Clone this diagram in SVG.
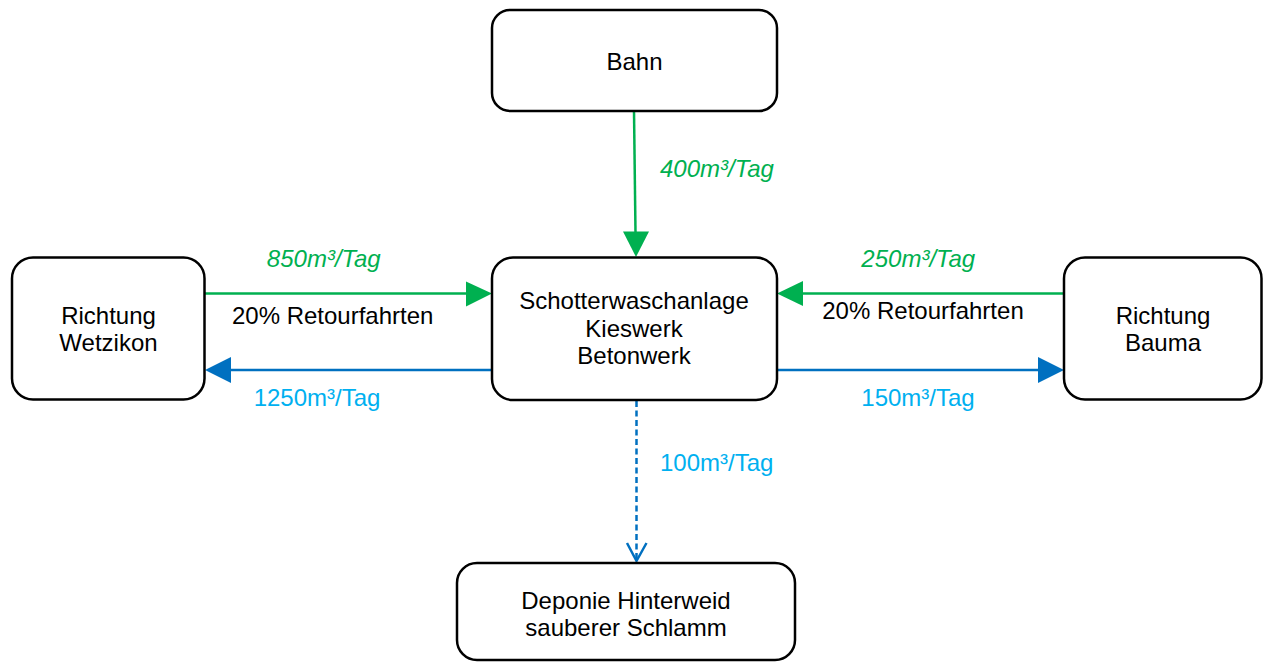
<svg xmlns="http://www.w3.org/2000/svg" width="1263" height="662" viewBox="0 0 1263 662">
<style>
.box{fill:#fff;stroke:#000;stroke-width:2.5}
.t{font-family:"Liberation Sans",Arial,sans-serif;font-size:24px;fill:#000;text-anchor:middle}
.g{fill:#00B050;font-style:italic}
.lb{fill:#00B0F0}
.gl{stroke:#00B050;stroke-width:2.5;fill:none}
.bl{stroke:#0070C0;stroke-width:2.5;fill:none}
</style>
<rect width="1263" height="662" fill="#fff"/>
<g id="connectors">
  <line class="gl" x1="634" y1="111" x2="635.5" y2="233"/>
  <polygon points="623,231.5 649,231.5 636,257" fill="#00B050"/>
  <line class="gl" x1="205" y1="293.5" x2="468" y2="293.5"/>
  <polygon points="466,281.5 466,306.5 492,293.5" fill="#00B050"/>
  <line class="bl" x1="492" y1="370" x2="229" y2="370"/>
  <polygon points="231,357 231,383 205,370" fill="#0070C0"/>
  <line class="gl" x1="1064" y1="293.5" x2="801" y2="293.5"/>
  <polygon points="803,281 803,306 777,293.5" fill="#00B050"/>
  <line class="bl" x1="777" y1="370" x2="1040" y2="370"/>
  <polygon points="1038,357 1038,383 1064,370" fill="#0070C0"/>
  <line class="bl" x1="636.5" y1="401" x2="636.5" y2="560" stroke-dasharray="6,3.5"/>
  <polyline class="bl" points="627,543 636.5,561 646.5,543"/>
</g>
<g id="bahn">
  <rect class="box" x="492" y="10" width="285" height="101" rx="18"/>
  <text class="t" x="634.5" y="70">Bahn</text>
</g>
<g id="zentrum">
  <rect class="box" x="492" y="257.5" width="285" height="142.5" rx="21"/>
  <text class="t" x="634" y="309.3">Schotterwaschanlage</text>
  <text class="t" x="634" y="337.3">Kieswerk</text>
  <text class="t" x="634" y="364.3">Betonwerk</text>
</g>
<g id="wetzikon">
  <rect class="box" x="12" y="257.5" width="192.5" height="142" rx="21"/>
  <text class="t" x="108.5" y="324">Richtung</text>
  <text class="t" x="108.5" y="351.3">Wetzikon</text>
</g>
<g id="bauma">
  <rect class="box" x="1064" y="257.5" width="197.5" height="142" rx="21"/>
  <text class="t" x="1163" y="323.5">Richtung</text>
  <text class="t" x="1163" y="351">Bauma</text>
</g>
<g id="deponie">
  <rect class="box" x="457" y="563" width="338" height="97" rx="20"/>
  <text class="t" x="626" y="608.7">Deponie Hinterweid</text>
  <text class="t" x="626" y="635.5">sauberer Schlamm</text>
</g>
<g id="labels">
  <text class="t g" x="660" y="176.7" style="text-anchor:start">400m³/Tag</text>
  <text class="t g" x="323.8" y="266.7">850m³/Tag</text>
  <text class="t" x="332.7" y="324.3">20% Retourfahrten</text>
  <text class="t lb" x="317" y="405.7">1250m³/Tag</text>
  <text class="t g" x="918.3" y="266.7">250m³/Tag</text>
  <text class="t" x="923" y="319">20% Retourfahrten</text>
  <text class="t lb" x="918" y="405.7">150m³/Tag</text>
  <text class="t lb" x="660" y="471" style="text-anchor:start">100m³/Tag</text>
</g>
</svg>
